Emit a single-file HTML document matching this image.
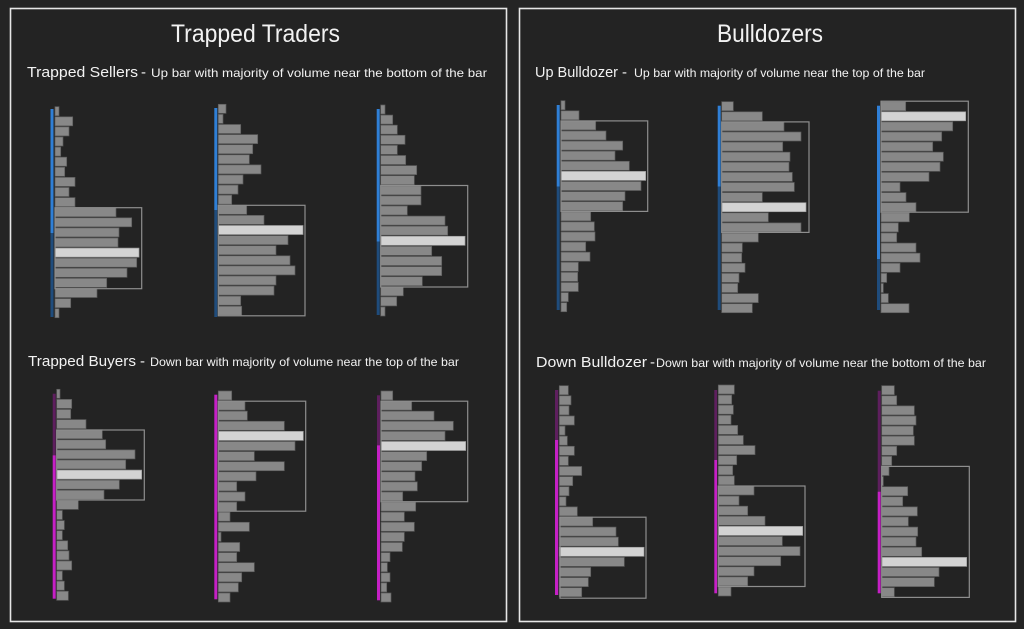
<!DOCTYPE html>
<html><head><meta charset="utf-8"><style>
html,body{margin:0;padding:0;background:#242424;}
svg{display:block}
.t{font-family:"Liberation Sans",sans-serif;fill:#f2f2f2}
.b rect{fill:#888;stroke:#5c5c5c;stroke-width:0.7}
.b rect.h{fill:#d3d3d3;stroke:#9a9a9a}
.b rect.bx{fill:none;stroke:#8e8e8e;stroke-width:1.2}
</style></head><body>
<svg width="1024" height="629" viewBox="0 0 1024 629" xmlns="http://www.w3.org/2000/svg">
<rect x="0" y="0" width="1024" height="629" fill="#242424"/>
<rect x="10.5" y="8.5" width="496" height="613" fill="#232323" stroke="#e6e6e6" stroke-width="1.6"/>
<rect x="519.5" y="8.5" width="496" height="613" fill="#232323" stroke="#e6e6e6" stroke-width="1.6"/>

<text class="t" x="171" y="42" font-size="25" textLength="169" lengthAdjust="spacingAndGlyphs">Trapped Traders</text>
<text class="t" x="717" y="42" font-size="25" textLength="106" lengthAdjust="spacingAndGlyphs">Bulldozers</text>

<text class="t" x="27" y="77" font-size="15" textLength="111" lengthAdjust="spacingAndGlyphs">Trapped Sellers</text>
<text class="t" x="141" y="77" font-size="15">-</text>
<text class="t" x="151" y="77" font-size="12" textLength="336" lengthAdjust="spacingAndGlyphs">Up bar with majority of volume near the bottom of the bar</text>

<text class="t" x="28" y="366" font-size="15" textLength="108" lengthAdjust="spacingAndGlyphs">Trapped Buyers</text>
<text class="t" x="140" y="366" font-size="15">-</text>
<text class="t" x="150" y="366" font-size="12" textLength="309" lengthAdjust="spacingAndGlyphs">Down bar with majority of volume near the top of the bar</text>

<text class="t" x="535" y="77" font-size="15" textLength="83" lengthAdjust="spacingAndGlyphs">Up Bulldozer</text>
<text class="t" x="622" y="77" font-size="15">-</text>
<text class="t" x="634" y="77" font-size="12" textLength="291" lengthAdjust="spacingAndGlyphs">Up bar with majority of volume near the top of the bar</text>

<text class="t" x="536" y="367" font-size="15" textLength="111" lengthAdjust="spacingAndGlyphs">Down Bulldozer</text>
<text class="t" x="650" y="367" font-size="15">-</text>
<text class="t" x="656" y="367" font-size="12" textLength="330" lengthAdjust="spacingAndGlyphs">Down bar with majority of volume near the bottom of the bar</text>

<!-- P1 -->
<g class="b" transform="translate(55,106.7)">
<rect x="-4.5" y="2.3" width="3" height="124" style="fill:#2f7fd6;stroke:none"/>
<rect x="-4.5" y="126.3" width="3" height="84" style="fill:#1f4c7c;stroke:none"/>
<rect y="0" width="4" height="9"/><rect y="10.1" width="17.7" height="9"/><rect y="20.2" width="14" height="9"/><rect y="30.3" width="8" height="9"/><rect y="40.4" width="5.7" height="9"/><rect y="50.5" width="11.7" height="9"/><rect y="60.6" width="9.7" height="9"/><rect y="70.7" width="20" height="9"/><rect y="80.8" width="14" height="9"/><rect y="90.9" width="20" height="9"/><rect y="101" width="61" height="9"/><rect y="111.1" width="76.7" height="9"/><rect y="121.2" width="64" height="9"/><rect y="131.3" width="63" height="9"/><rect class="h" y="141.4" width="84" height="9"/><rect y="151.5" width="81.7" height="9"/><rect y="161.6" width="72" height="9"/><rect y="171.7" width="51.7" height="9"/><rect y="181.8" width="42" height="9"/><rect y="191.9" width="15.7" height="9"/><rect y="202" width="4" height="9"/>
<rect class="bx" x="0" y="101" width="86.7" height="81"/>
</g>
<!-- P2 -->
<g class="b" transform="translate(218.3,104.3)">
<rect x="-4" y="3.7" width="3" height="102" style="fill:#2f7fd6;stroke:none"/>
<rect x="-4" y="105.7" width="3" height="107" style="fill:#1f4c7c;stroke:none"/>
<rect y="0" width="7.7" height="9"/><rect y="10.1" width="4.7" height="9"/><rect y="20.2" width="22.4" height="9"/><rect y="30.3" width="39.4" height="9"/><rect y="40.4" width="34.4" height="9"/><rect y="50.5" width="31" height="9"/><rect y="60.6" width="42.7" height="9"/><rect y="70.7" width="24.7" height="9"/><rect y="80.8" width="19.7" height="9"/><rect y="90.9" width="13.4" height="9"/><rect y="101" width="28.4" height="9"/><rect y="111.1" width="45.7" height="9"/><rect class="h" y="121.2" width="84.7" height="9"/><rect y="131.3" width="69.7" height="9"/><rect y="141.4" width="57.7" height="9"/><rect y="151.5" width="71.7" height="9"/><rect y="161.6" width="76.7" height="9"/><rect y="171.7" width="57.7" height="9"/><rect y="181.8" width="55.7" height="9"/><rect y="191.9" width="22.4" height="9"/><rect y="202" width="23.4" height="9"/>
<rect class="bx" x="0" y="101" width="86.7" height="110.5"/>
</g>
<!-- P3 -->
<g class="b" transform="translate(380.7,105)">
<rect x="-4" y="4" width="3" height="132.7" style="fill:#2f7fd6;stroke:none"/>
<rect x="-4" y="136.7" width="3" height="73.3" style="fill:#1f4c7c;stroke:none"/>
<rect y="0" width="4.3" height="9"/><rect y="10.1" width="12" height="9"/><rect y="20.2" width="16.6" height="9"/><rect y="30.3" width="24.3" height="9"/><rect y="40.4" width="16.6" height="9"/><rect y="50.5" width="25" height="9"/><rect y="60.6" width="36" height="9"/><rect y="70.7" width="33.6" height="9"/><rect y="80.8" width="40.3" height="9"/><rect y="90.9" width="40.3" height="9"/><rect y="101" width="26.6" height="9"/><rect y="111.1" width="64.3" height="9"/><rect y="121.2" width="67" height="9"/><rect class="h" y="131.3" width="84.3" height="9"/><rect y="141.4" width="51" height="9"/><rect y="151.5" width="61" height="9"/><rect y="161.6" width="61" height="9"/><rect y="171.7" width="41.6" height="9"/><rect y="181.8" width="22.6" height="9"/><rect y="191.9" width="16" height="9"/><rect y="202" width="4.3" height="9"/>
<rect class="bx" x="0" y="80.5" width="87" height="101.5"/>
</g>
<!-- P4 -->
<g class="b" transform="translate(56.7,389.3)">
<rect x="-4" y="4.4" width="3" height="61.6" style="fill:#5e1f5e;stroke:none"/>
<rect x="-4" y="66" width="3" height="143.4" style="fill:#c520c5;stroke:none"/>
<rect y="0" width="3.3" height="9"/><rect y="10.1" width="15" height="9"/><rect y="20.2" width="14" height="9"/><rect y="30.3" width="29.3" height="9"/><rect y="40.4" width="45.6" height="9"/><rect y="50.5" width="49" height="9"/><rect y="60.6" width="78.3" height="9"/><rect y="70.7" width="69" height="9"/><rect class="h" y="80.8" width="85" height="9"/><rect y="90.9" width="62.6" height="9"/><rect y="101" width="47.3" height="9"/><rect y="111.1" width="21.6" height="9"/><rect y="121.2" width="5.6" height="9"/><rect y="131.3" width="7.6" height="9"/><rect y="141.4" width="5.6" height="9"/><rect y="151.5" width="11" height="9"/><rect y="161.6" width="12.3" height="9"/><rect y="171.7" width="15" height="9"/><rect y="181.8" width="5.6" height="9"/><rect y="191.9" width="7.6" height="9"/><rect y="202" width="11.6" height="9"/>
<rect class="bx" x="0" y="40.7" width="87.6" height="70"/>
</g>
<!-- P5 -->
<g class="b" transform="translate(218.3,391)">
<rect x="-4" y="3.7" width="3" height="204.6" style="fill:#c520c5;stroke:none"/>
<rect y="0" width="13.4" height="9"/><rect y="10.1" width="26.7" height="9"/><rect y="20.2" width="29" height="9"/><rect y="30.3" width="66" height="9"/><rect class="h" y="40.4" width="85" height="9"/><rect y="50.5" width="76.7" height="9"/><rect y="60.6" width="36" height="9"/><rect y="70.7" width="66" height="9"/><rect y="80.8" width="37.7" height="9"/><rect y="90.9" width="18.4" height="9"/><rect y="101" width="26.7" height="9"/><rect y="111.1" width="18.4" height="9"/><rect y="121.2" width="11.7" height="9"/><rect y="131.3" width="31" height="9"/><rect y="141.4" width="2.7" height="9"/><rect y="151.5" width="21.4" height="9"/><rect y="161.6" width="18.4" height="9"/><rect y="171.7" width="36" height="9"/><rect y="181.8" width="23.4" height="9"/><rect y="191.9" width="20" height="9"/><rect y="202" width="11.7" height="9"/>
<rect class="bx" x="0" y="10.2" width="87.4" height="110"/>
</g>
<!-- P6 -->
<g class="b" transform="translate(381,391)">
<rect x="-4" y="4.3" width="3" height="50" style="fill:#5e1f5e;stroke:none"/>
<rect x="-4" y="54.3" width="3" height="155" style="fill:#c520c5;stroke:none"/>
<rect y="0" width="11.7" height="9"/><rect y="10.1" width="30.7" height="9"/><rect y="20.2" width="53" height="9"/><rect y="30.3" width="72.3" height="9"/><rect y="40.4" width="64" height="9"/><rect class="h" y="50.5" width="84.7" height="9"/><rect y="60.6" width="45.7" height="9"/><rect y="70.7" width="40.7" height="9"/><rect y="80.8" width="34" height="9"/><rect y="90.9" width="36.3" height="9"/><rect y="101" width="21.7" height="9"/><rect y="111.1" width="34.7" height="9"/><rect y="121.2" width="23.3" height="9"/><rect y="131.3" width="33.3" height="9"/><rect y="141.4" width="23.3" height="9"/><rect y="151.5" width="21.3" height="9"/><rect y="161.6" width="9" height="9"/><rect y="171.7" width="6.3" height="9"/><rect y="181.8" width="9" height="9"/><rect y="191.9" width="5.7" height="9"/><rect y="202" width="10" height="9"/>
<rect class="bx" x="0" y="10.2" width="86.7" height="100.5"/>
</g>
<!-- P7 -->
<g class="b" transform="translate(561,100.7)">
<rect x="-4.3" y="4.3" width="3" height="81.7" style="fill:#2f7fd6;stroke:none"/>
<rect x="-4.3" y="86" width="3" height="123.3" style="fill:#1f4c7c;stroke:none"/>
<rect y="0" width="4" height="9"/><rect y="10.1" width="18" height="9"/><rect y="20.2" width="34.7" height="9"/><rect y="30.3" width="45" height="9"/><rect y="40.4" width="61.7" height="9"/><rect y="50.5" width="54" height="9"/><rect y="60.6" width="68.3" height="9"/><rect class="h" y="70.7" width="84.7" height="9"/><rect y="80.8" width="80" height="9"/><rect y="90.9" width="64" height="9"/><rect y="101" width="61.7" height="9"/><rect y="111.1" width="29.7" height="9"/><rect y="121.2" width="33.3" height="9"/><rect y="131.3" width="34" height="9"/><rect y="141.4" width="24.7" height="9"/><rect y="151.5" width="29" height="9"/><rect y="161.6" width="17.3" height="9"/><rect y="171.7" width="16.7" height="9"/><rect y="181.8" width="17.3" height="9"/><rect y="191.9" width="7.3" height="9"/><rect y="202" width="5.7" height="9"/>
<rect class="bx" x="0" y="20.2" width="86.7" height="90.5"/>
</g>
<!-- P8 -->
<g class="b" transform="translate(721.7,101.7)">
<rect x="-4" y="4" width="3" height="81" style="fill:#2f7fd6;stroke:none"/>
<rect x="-4" y="85" width="3" height="123.3" style="fill:#1f4c7c;stroke:none"/>
<rect y="0" width="11.6" height="9"/><rect y="10.1" width="40.6" height="9"/><rect y="20.2" width="62.3" height="9"/><rect y="30.3" width="79.3" height="9"/><rect y="40.4" width="61" height="9"/><rect y="50.5" width="68.3" height="9"/><rect y="60.6" width="67.3" height="9"/><rect y="70.7" width="70.6" height="9"/><rect y="80.8" width="72.6" height="9"/><rect y="90.9" width="40.6" height="9"/><rect class="h" y="101" width="84.3" height="9"/><rect y="111.1" width="46.6" height="9"/><rect y="121.2" width="79.3" height="9"/><rect y="131.3" width="36.6" height="9"/><rect y="141.4" width="20.6" height="9"/><rect y="151.5" width="20" height="9"/><rect y="161.6" width="23.3" height="9"/><rect y="171.7" width="17.3" height="9"/><rect y="181.8" width="16" height="9"/><rect y="191.9" width="36.6" height="9"/><rect y="202" width="30.6" height="9"/>
<rect class="bx" x="0" y="20.2" width="87.3" height="110.5"/>
</g>
<!-- P9 -->
<g class="b" transform="translate(881,101.7)">
<rect x="-4" y="4" width="3" height="153.3" style="fill:#2f7fd6;stroke:none"/>
<rect x="-4" y="157.3" width="3" height="51" style="fill:#1f4c7c;stroke:none"/>
<rect y="0" width="24.7" height="9"/><rect class="h" y="10.1" width="84.7" height="9"/><rect y="20.2" width="71.7" height="9"/><rect y="30.3" width="60.7" height="9"/><rect y="40.4" width="51.7" height="9"/><rect y="50.5" width="62.3" height="9"/><rect y="60.6" width="59" height="9"/><rect y="70.7" width="48" height="9"/><rect y="80.8" width="19" height="9"/><rect y="90.9" width="25" height="9"/><rect y="101" width="35" height="9"/><rect y="111.1" width="28.3" height="9"/><rect y="121.2" width="17.3" height="9"/><rect y="131.3" width="15.7" height="9"/><rect y="141.4" width="35" height="9"/><rect y="151.5" width="39" height="9"/><rect y="161.6" width="19" height="9"/><rect y="171.7" width="5.7" height="9"/><rect y="181.8" width="2.3" height="9"/><rect y="191.9" width="7.3" height="9"/><rect y="202" width="28" height="9"/>
<rect class="bx" x="0" y="-0.5" width="87.3" height="111"/>
</g>
<!-- P10 -->
<g class="b" transform="translate(559.3,385.7)">
<rect x="-4.3" y="4.3" width="3.2" height="50" style="fill:#5e1f5e;stroke:none"/>
<rect x="-4.3" y="54.3" width="3.2" height="155" style="fill:#c520c5;stroke:none"/>
<rect y="0" width="9" height="9"/><rect y="10.1" width="11.7" height="9"/><rect y="20.2" width="9.7" height="9"/><rect y="30.3" width="15" height="9"/><rect y="40.4" width="5.7" height="9"/><rect y="50.5" width="8" height="9"/><rect y="60.6" width="15" height="9"/><rect y="70.7" width="9" height="9"/><rect y="80.8" width="22.4" height="9"/><rect y="90.9" width="13.4" height="9"/><rect y="101" width="9.7" height="9"/><rect y="111.1" width="6.7" height="9"/><rect y="121.2" width="18" height="9"/><rect y="131.3" width="33.4" height="9"/><rect y="141.4" width="56.7" height="9"/><rect y="151.5" width="59" height="9"/><rect class="h" y="161.6" width="84.7" height="9"/><rect y="171.7" width="65" height="9"/><rect y="181.8" width="31.4" height="9"/><rect y="191.9" width="29" height="9"/><rect y="202" width="22.4" height="9"/>
<rect class="bx" x="0.7" y="131.5" width="86" height="81"/>
</g>
<!-- P11 -->
<g class="b" transform="translate(718.3,385)">
<rect x="-4" y="5" width="2.8" height="70" style="fill:#5e1f5e;stroke:none"/>
<rect x="-4" y="75" width="2.8" height="133.3" style="fill:#c520c5;stroke:none"/>
<rect y="0" width="16" height="9"/><rect y="10.1" width="13.4" height="9"/><rect y="20.2" width="15" height="9"/><rect y="30.3" width="12.7" height="9"/><rect y="40.4" width="19.4" height="9"/><rect y="50.5" width="25" height="9"/><rect y="60.6" width="36.7" height="9"/><rect y="70.7" width="18.4" height="9"/><rect y="80.8" width="14.4" height="9"/><rect y="90.9" width="16" height="9"/><rect y="101" width="35.7" height="9"/><rect y="111.1" width="20.7" height="9"/><rect y="121.2" width="29.4" height="9"/><rect y="131.3" width="46.7" height="9"/><rect class="h" y="141.4" width="84.4" height="9"/><rect y="151.5" width="64" height="9"/><rect y="161.6" width="81.7" height="9"/><rect y="171.7" width="62.4" height="9"/><rect y="181.8" width="35.7" height="9"/><rect y="191.9" width="29.4" height="9"/><rect y="202" width="12.7" height="9"/>
<rect class="bx" x="0" y="101" width="86.7" height="100.5"/>
</g>
<!-- P12 -->
<g class="b" transform="translate(881.7,385.7)">
<rect x="-4" y="5" width="3" height="101" style="fill:#5e1f5e;stroke:none"/>
<rect x="-4" y="106" width="3" height="101.6" style="fill:#c520c5;stroke:none"/>
<rect y="0" width="12.6" height="9"/><rect y="10.1" width="15" height="9"/><rect y="20.2" width="32.6" height="9"/><rect y="30.3" width="34.3" height="9"/><rect y="40.4" width="31.6" height="9"/><rect y="50.5" width="32.6" height="9"/><rect y="60.6" width="15" height="9"/><rect y="70.7" width="10" height="9"/><rect y="80.8" width="7.3" height="9"/><rect y="90.9" width="1.6" height="9"/><rect y="101" width="26" height="9"/><rect y="111.1" width="21" height="9"/><rect y="121.2" width="35.6" height="9"/><rect y="131.3" width="26.6" height="9"/><rect y="141.4" width="36" height="9"/><rect y="151.5" width="34.3" height="9"/><rect y="161.6" width="40" height="9"/><rect class="h" y="171.7" width="85" height="9"/><rect y="181.8" width="57.3" height="9"/><rect y="191.9" width="52.6" height="9"/><rect y="202" width="12.6" height="9"/>
<rect class="bx" x="0" y="80.7" width="87.6" height="131"/>
</g>
</svg>
</body></html>
